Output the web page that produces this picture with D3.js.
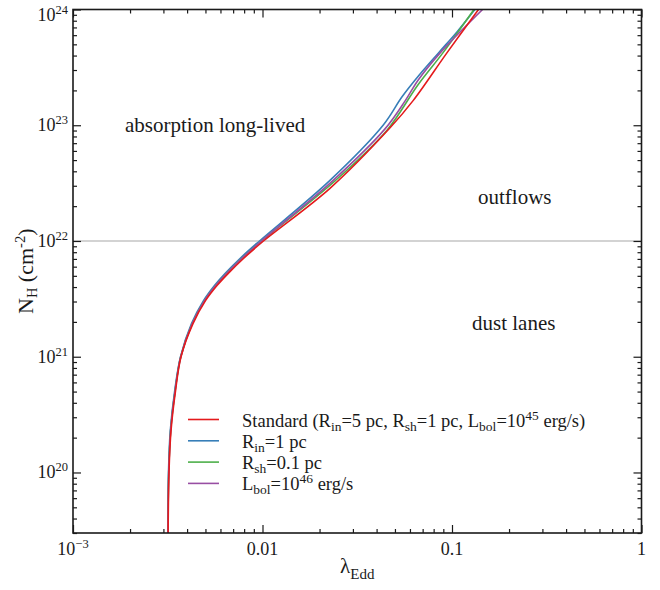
<!DOCTYPE html>
<html>
<head>
<meta charset="utf-8">
<script src="https://cdn.jsdelivr.net/npm/d3@7"></script>
<style>
  body { margin: 0; background: #fff; }
  text { font-family: "Liberation Serif", "Times New Roman", serif; fill: #1a1a1a; }
</style>
</head>
<body>
<div id="graph"></div>
<script>
// Eddington ratio (x) vs column density (y) for each model
var standardLambda = [0.003171, 0.00321, 0.003289, 0.003475, 0.003715, 0.004297, 0.005003, 0.005754, 0.006577, 0.007937, 0.01012, 0.0227, 0.0471, 0.0625, 0.0938, 0.138];
var standardNH     = [2e19, 1e20, 2.29e20, 5.08e20, 1e21, 1.93e21, 3.05e21, 4.12e21, 5.23e21, 7.06e21, 1e22, 2.85e22, 9.5e22, 1.64e23, 4.2e23, 1e24];

var rinLambda = [0.003162, 0.003191, 0.003261, 0.003441, 0.003693, 0.00422, 0.004884, 0.005581, 0.006342, 0.007608, 0.009643, 0.0227, 0.0433, 0.0545, 0.067, 0.0853, 0.107, 0.132];
var rinNH     = [2e19, 1e20, 2.29e20, 5.08e20, 1e21, 1.93e21, 3.05e21, 4.12e21, 5.23e21, 7.06e21, 1e22, 3.34e22, 1e23, 1.76e23, 2.7e23, 4.25e23, 6.5e23, 1e24];

var rshLambda = [0.003166, 0.0032, 0.003275, 0.003458, 0.003704, 0.004256, 0.004943, 0.005662, 0.006457, 0.007766, 0.009879, 0.0243, 0.0454, 0.0662, 0.0893, 0.1306];
var rshNH     = [2e19, 1e20, 2.29e20, 5.08e20, 1e21, 1.93e21, 3.05e21, 4.12e21, 5.23e21, 7.06e21, 1e22, 3.34e22, 9.07e22, 2.24e23, 4.2e23, 1e24];

var lbolLambda = [0.003166, 0.0032, 0.003275, 0.003458, 0.003704, 0.004256, 0.004943, 0.005662, 0.006457, 0.007766, 0.009879, 0.0236, 0.0443, 0.0568, 0.0662, 0.0864, 0.145];
var lbolNH     = [2e19, 1e20, 2.29e20, 5.08e20, 1e21, 1.93e21, 3.05e21, 4.12e21, 5.23e21, 7.06e21, 1e22, 3.34e22, 9.3e22, 1.64e23, 2.45e23, 4.2e23, 1e24];

// tick labels
var xTickValues = [1e-3, 1e-2, 1e-1, 1];
var xTickText   = ["10", "0.01", "0.1", "1"];
var xTickSup    = ["\u22123", "", "", ""];
var yTickValues = [1e20, 1e21, 1e22, 1e23, 1e24];
var yTickText   = ["10", "10", "10", "10", "10"];
var yTickSup    = ["20", "21", "22", "23", "24"];

var thresholdNH = 1e22;

// legend labels, [text, "sub"/"sup"/""]
var legendLabels = [
    [["Standard (R", ""], ["in", "sub"], ["=5 pc, R", ""], ["sh", "sub"], ["=1 pc, L", ""], ["bol", "sub"], ["=10", ""], ["45", "sup"], [" erg/s)", ""]],
    [["R", ""], ["in", "sub"], ["=1 pc", ""]],
    [["R", ""], ["sh", "sub"], ["=0.1 pc", ""]],
    [["L", ""], ["bol", "sub"], ["=10", ""], ["46", "sup"], [" erg/s", ""]]
];

var series = [
    {x: standardLambda, y: standardNH, color: "#e41a1c"},
    {x: rinLambda, y: rinNH, color: "#377eb8"},
    {x: rshLambda, y: rshNH, color: "#4daf4a"},
    {x: lbolLambda, y: lbolNH, color: "#984ea3"}
];

var W = 660, H = 590;
var pLeft = 73, pRight = 641.5, pTop = 9.5, pBottom = 533;

var svg = d3.select('#graph').append("svg")
    .attr("width", W)
    .attr("height", H);

var x = d3.scaleLog().domain([1e-3, 1]).range([pLeft, pRight]);
var y = d3.scaleLog().domain([3e19, 1e24]).range([pBottom, pTop]);

svg.append("clipPath").attr("id", "clip")
    .append("rect")
    .attr("x", pLeft).attr("y", pTop)
    .attr("width", pRight - pLeft).attr("height", pBottom - pTop);

// threshold line
svg.append("line")
    .attr("x1", pLeft).attr("x2", pRight)
    .attr("y1", y(thresholdNH)).attr("y2", y(thresholdNH))
    .attr("stroke", "#a8a8a8")
    .attr("stroke-width", 1.2);

// curves, red drawn last
var line = d3.line()
    .x(function (d) { return x(d[0]); })
    .y(function (d) { return y(d[1]); })
    .curve(d3.curveCatmullRom.alpha(0.5));

var order = [1, 2, 3, 0];
order.forEach(function (i) {
    var s = series[i];
    var pts = s.x.map(function (v, k) { return [v, s.y[k]]; });
    svg.append("path")
        .attr("clip-path", "url(#clip)")
        .attr("d", line(pts))
        .attr("fill", "none")
        .attr("stroke", s.color)
        .attr("stroke-width", 1.6);
});

// ticks on all four sides, pointing inward
var xMinor = x.ticks().filter(function (v) { return xTickValues.indexOf(v) < 0; });
var yMinor = y.ticks().filter(function (v) { return yTickValues.indexOf(v) < 0; });

function tickGroup(axis, tr) {
    var g = svg.append("g").attr("transform", tr).call(axis);
    g.select(".domain").remove();
    g.selectAll(".tick line").attr("stroke", "#1a1a1a").attr("stroke-width", 1.2);
    g.selectAll(".tick text").remove();
}

tickGroup(d3.axisBottom(x).tickValues(xTickValues).tickSize(-8), "translate(0," + pBottom + ")");
tickGroup(d3.axisBottom(x).tickValues(xMinor).tickSize(-4), "translate(0," + pBottom + ")");
tickGroup(d3.axisTop(x).tickValues(xTickValues).tickSize(-8), "translate(0," + pTop + ")");
tickGroup(d3.axisTop(x).tickValues(xMinor).tickSize(-4), "translate(0," + pTop + ")");
tickGroup(d3.axisLeft(y).tickValues(yTickValues).tickSize(-8), "translate(" + pLeft + ",0)");
tickGroup(d3.axisLeft(y).tickValues(yMinor).tickSize(-4), "translate(" + pLeft + ",0)");
tickGroup(d3.axisRight(y).tickValues(yTickValues).tickSize(-8), "translate(" + pRight + ",0)");
tickGroup(d3.axisRight(y).tickValues(yMinor).tickSize(-4), "translate(" + pRight + ",0)");

// frame
svg.append("rect")
    .attr("x", pLeft).attr("y", pTop)
    .attr("width", pRight - pLeft).attr("height", pBottom - pTop)
    .attr("fill", "none")
    .attr("stroke", "#1a1a1a")
    .attr("stroke-width", 1.6);

// tick labels
xTickValues.forEach(function (v, i) {
    var t = svg.append("text")
        .attr("x", x(v)).attr("y", 555)
        .attr("text-anchor", "middle")
        .style("font-size", "18px")
        .text(xTickText[i]);
    if (xTickSup[i]) {
        t.append("tspan").attr("dy", -7).style("font-size", "12.5px").text(xTickSup[i]);
    }
});

yTickValues.forEach(function (v, i) {
    var t = svg.append("text")
        .attr("x", 68).attr("y", Math.max(y(v) + 6, 21))
        .attr("text-anchor", "end")
        .style("font-size", "18px")
        .text(yTickText[i]);
    t.append("tspan").attr("dy", -7).style("font-size", "12.5px").text(yTickSup[i]);
});

// axis titles
var xt = svg.append("text")
    .attr("x", (pLeft + pRight) / 2).attr("y", 573)
    .attr("text-anchor", "middle")
    .style("font-size", "21px")
    .text("\u03bb");
xt.append("tspan").attr("dy", 6).style("font-size", "15px").text("Edd");

var yt = svg.append("text")
    .attr("transform", "translate(33," + ((pTop + pBottom) / 2) + ") rotate(-90)")
    .attr("text-anchor", "middle")
    .style("font-size", "22px")
    .text("N");
yt.append("tspan").attr("dy", 4).style("font-size", "14.5px").text("H");
yt.append("tspan").attr("dy", -4).text(" (cm");
yt.append("tspan").attr("dy", -8).style("font-size", "14.5px").text("-2");
yt.append("tspan").attr("dy", 8).text(")");

// region annotations
svg.append("text").attr("x", 125).attr("y", 132).style("font-size", "21px").text("absorption long-lived");
svg.append("text").attr("x", 478).attr("y", 204).style("font-size", "21px").text("outflows");
svg.append("text").attr("x", 472).attr("y", 330).style("font-size", "21px").text("dust lanes");

// legend
legendLabels.forEach(function (parts, i) {
    var by = 426.5 + i * 21.3;
    svg.append("line")
        .attr("x1", 188).attr("x2", 219)
        .attr("y1", by - 7).attr("y2", by - 7)
        .attr("stroke", series[i].color)
        .attr("stroke-width", 1.6);
    var t = svg.append("text").attr("x", 242).attr("y", by).style("font-size", "18.5px");
    var off = 0;
    parts.forEach(function (p) {
        var target = p[1] === "sub" ? 4 : (p[1] === "sup" ? -7 : 0);
        var ts = t.append("tspan").attr("dy", target - off).text(p[0]);
        if (p[1]) ts.style("font-size", "13.5px");
        off = target;
    });
});
</script>
</body>
</html>
